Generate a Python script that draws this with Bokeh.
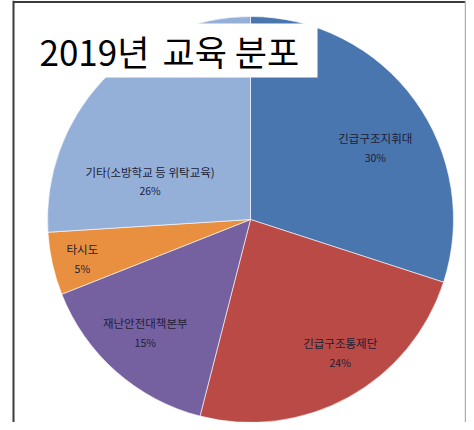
import math
from bokeh.plotting import figure
from bokeh.models import Range1d, ColumnDataSource
from bokeh.core.properties import value
from bokeh.embed import file_html
from bokeh.resources import INLINE

# ---- data ----
categories = ["긴급구조지휘대", "긴급구조통제단", "재난안전대책본부", "타시도", "기타(소방학교 등 위탁교육)"]
shares = [30, 24, 15, 5, 26]
colors = ["#4A76B0", "#B94A45", "#7560A0", "#E8903F", "#95B0D8"]
title_parts = ["2019년", "교육 분포"]

# label placement (degrees clockwise from top, fraction of radius)
label_angle = [60, 146, 223, 257, 291]
label_rfrac = [0.71, 0.79, 0.76, 0.85, 0.53]

W, H = 466, 422
# data x = page X ; data y = H - page Y
p = figure(width=W, height=H, output_backend="svg", toolbar_location=None,
           x_range=Range1d(0, W), y_range=Range1d(0, H),
           min_border=0, outline_line_color=None)
p.axis.visible = False
p.xgrid.visible = False
p.ygrid.visible = False
p.background_fill_color = "white"
p.border_fill_color = "white"

cx, cy, R = 250, H - 219, 203

total = float(sum(shares))
starts, ends = [], []
acc = 0.0
for s in shares:
    a0 = math.pi / 2 - 2 * math.pi * acc / total
    acc += s
    a1 = math.pi / 2 - 2 * math.pi * acc / total
    starts.append(a0)
    ends.append(a1)

src = ColumnDataSource(dict(x=[cx] * len(shares), y=[cy] * len(shares),
                            start=starts, end=ends, color=colors))
p.wedge(x="x", y="y", radius=R, radius_units="screen", start_angle="start", end_angle="end",
        direction="clock", fill_color="color", line_color="white", line_width=0.6, source=src)

# labels
lx, ly1, ly2, t1, t2 = [], [], [], [], []
for c, s, ang, rf in zip(categories, shares, label_angle, label_rfrac):
    a = math.radians(ang)
    x = cx + R * rf * math.sin(a)
    y = cy + R * rf * math.cos(a)
    lx.append(x)
    ly1.append(y + 9)
    ly2.append(y - 10)
    t1.append(c)
    t2.append(f"{s}%")
p.text(x=lx, y=ly1, text=t1, text_align="center", text_baseline="middle",
       text_font=value("Noto Sans CJK KR"), text_font_size="11.5px", text_color="#1c2036")
p.text(x=lx, y=ly2, text=t2, text_align="center", text_baseline="middle",
       text_font=value("Noto Sans CJK KR"), text_font_size="10.5px", text_color="#1c2036")

# title box
p.quad(left=13, right=317, bottom=H - 77, top=H - 23, fill_color="white", line_color=None)
p.text(x=[39, 162], y=[H - 50, H - 50], text=title_parts, text_align="left", text_baseline="middle",
       text_font=value("Liberation Sans Narrow, Noto Sans CJK KR"), text_font_size="35px",
       text_color="black")

# frame lines
p.segment(x0=[13], y0=[0], x1=[13], y1=[H], line_color="#3a3a3a", line_width=2)
p.segment(x0=[13], y0=[H - 1.5], x1=[W], y1=[H - 1.5], line_color="#3a3a3a", line_width=2)
p.segment(x0=[W - 1], y0=[0], x1=[W - 1], y1=[H], line_color="#b0b0b0", line_width=1.5)

open("out.html", "w").write(file_html(p, INLINE))
